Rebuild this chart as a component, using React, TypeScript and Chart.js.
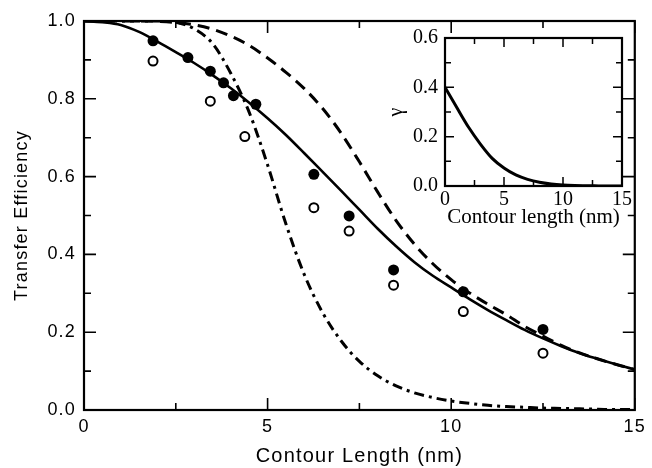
import React, { useEffect, useRef } from 'react';
import { Chart, registerables } from 'chart.js';

Chart.register(...registerables);

// ---- data ----
const curveX = [0, 0.5, 1, 1.5, 2, 2.5, 3, 3.5, 4, 4.5, 5, 5.5, 6, 6.5, 7, 7.5, 8, 8.5, 9, 9.5, 10, 10.5, 11, 11.5, 12, 12.5, 13, 13.5, 14, 14.5, 15];
const solidY = [1.0, 0.997, 0.99, 0.972, 0.947, 0.92, 0.892, 0.861, 0.827, 0.79, 0.75, 0.707, 0.66, 0.612, 0.564, 0.515, 0.466, 0.421, 0.38, 0.345, 0.315, 0.285, 0.257, 0.231, 0.206, 0.184, 0.164, 0.146, 0.131, 0.117, 0.104];
const dashedY = [1.0, 1.0, 1.0, 1.0, 0.999, 0.996, 0.99, 0.979, 0.961, 0.937, 0.905, 0.868, 0.826, 0.775, 0.712, 0.638, 0.56, 0.487, 0.426, 0.376, 0.335, 0.301, 0.272, 0.245, 0.215, 0.19, 0.166, 0.147, 0.131, 0.117, 0.104];
const dashDotY = [1.0, 1.0, 1.0, 1.0, 1.0, 0.997, 0.98, 0.942, 0.865, 0.765, 0.63, 0.478, 0.348, 0.25, 0.178, 0.125, 0.088, 0.062, 0.044, 0.032, 0.023, 0.017, 0.012, 0.009, 0.007, 0.005, 0.004, 0.003, 0.002, 0.001, 0.001];

const filledX = [1.88, 2.83, 3.44, 3.8, 4.07, 4.68, 6.26, 7.22, 8.43, 10.33, 12.5];
const filledY = [0.949, 0.906, 0.871, 0.841, 0.808, 0.786, 0.606, 0.499, 0.36, 0.304, 0.207];
const openX = [1.88, 3.44, 4.38, 6.26, 7.22, 8.43, 10.33, 12.5];
const openY = [0.897, 0.794, 0.703, 0.52, 0.46, 0.321, 0.253, 0.146];

const insetX = [0, 1, 2, 3, 4, 5, 6, 7, 8, 9, 10, 11, 12, 13, 14, 15];
const insetY = [0.4, 0.318, 0.238, 0.17, 0.112, 0.073, 0.045, 0.027, 0.015, 0.008, 0.004, 0.002, 0.001, 0.0005, 0, 0];

const xTicks = [0, 5, 10, 15];
const xMinorTicks = [2.5, 7.5, 12.5];
const yTicks = [0, 0.2, 0.4, 0.6, 0.8, 1.0];
const yMinorTicks = [0.1, 0.3, 0.5, 0.7, 0.9];
const insetXTicks = [0, 5, 10, 15];
const insetXMinorTicks = [2.5, 7.5, 12.5];
const insetYTicks = [0, 0.2, 0.4, 0.6];
const insetYMinorTicks = [0.1, 0.3, 0.5];

const xTitle = 'Contour Length (nm)';
const yTitle = 'Transfer Efficiency';
const insetXTitle = 'Contour length (nm)';
const insetYTitle = 'γ';

const pts = (xs: number[], ys: number[]) => xs.map((x, i) => ({ x, y: ys[i] }));

type FrameCfg = {
  name: string;
  letterSpacing: string;
  xMajor: number[];
  xMinor: number[];
  yMajor: number[];
  yMinor: number[];
  majorLen: number;
  minorLen: number;
  tickWidth: number;
  frameWidth: number;
};

function framePlugin(cfg: FrameCfg) {
  return {
    id: 'frame_' + cfg.name,
    beforeUpdate(chart: any) {
      (chart.ctx as any).letterSpacing = cfg.letterSpacing;
    },
    beforeDraw(chart: any) {
      (chart.ctx as any).letterSpacing = cfg.letterSpacing;
    },
    afterDraw(chart: any) {
      const { ctx, chartArea, scales } = chart;
      const { left, right, top, bottom } = chartArea;
      const xs = scales.x;
      const ys = scales.y;
      ctx.save();
      ctx.setLineDash([]);
      ctx.strokeStyle = '#000';
      ctx.lineWidth = cfg.tickWidth;
      ctx.beginPath();
      const vx = (vals: number[], len: number) =>
        vals.forEach((v) => {
          const p = xs.getPixelForValue(v);
          ctx.moveTo(p, bottom);
          ctx.lineTo(p, bottom - len);
          ctx.moveTo(p, top);
          ctx.lineTo(p, top + len);
        });
      const vy = (vals: number[], len: number) =>
        vals.forEach((v) => {
          const p = ys.getPixelForValue(v);
          ctx.moveTo(left, p);
          ctx.lineTo(left + len, p);
          ctx.moveTo(right, p);
          ctx.lineTo(right - len, p);
        });
      vx(cfg.xMajor, cfg.majorLen);
      vx(cfg.xMinor, cfg.minorLen);
      vy(cfg.yMajor, cfg.majorLen);
      vy(cfg.yMinor, cfg.minorLen);
      ctx.stroke();
      ctx.lineWidth = cfg.frameWidth;
      ctx.strokeRect(left, top, right - left, bottom - top);
      ctx.restore();
    },
  };
}

const MAIN_W = 652;
const MAIN_H = 468;
const INSET_LEFT = 370;
const INSET_TOP = 18;
const INSET_W = 272;
const INSET_H = 220;

export default function App() {
  const mainRef = useRef<HTMLCanvasElement | null>(null);
  const insetRef = useRef<HTMLCanvasElement | null>(null);

  useEffect(() => {
    const sans = 'Liberation Sans';
    const serif = 'Liberation Serif';

    const main = new Chart(mainRef.current as HTMLCanvasElement, {
      type: 'scatter',
      data: {
        datasets: [
          {
            label: 'open',
            data: pts(openX, openY),
            pointStyle: 'circle',
            pointRadius: 4.5,
            pointBorderWidth: 2,
            pointBackgroundColor: '#fff',
            pointBorderColor: '#000',
            showLine: false,
            order: 0,
          },
          {
            label: 'filled',
            data: pts(filledX, filledY),
            pointStyle: 'circle',
            pointRadius: 5.5,
            pointBorderWidth: 0,
            pointBackgroundColor: '#000',
            pointBorderColor: '#000',
            showLine: false,
            order: 1,
          },
          {
            label: 'solid',
            data: pts(curveX, solidY),
            showLine: true,
            borderColor: '#000',
            borderWidth: 2.6,
            pointRadius: 0,
            cubicInterpolationMode: 'monotone',
            order: 2,
          },
          {
            label: 'dashed',
            data: pts(curveX, dashedY),
            showLine: true,
            borderColor: '#000',
            borderWidth: 3,
            borderDash: [12, 7],
            pointRadius: 0,
            cubicInterpolationMode: 'monotone',
            order: 3,
          },
          {
            label: 'dashdot',
            data: pts(curveX, dashDotY),
            showLine: true,
            borderColor: '#000',
            borderWidth: 3,
            borderDash: [10, 5, 3, 5],
            pointRadius: 0,
            cubicInterpolationMode: 'monotone',
            order: 4,
          },
        ],
      },
      options: {
        responsive: false,
        animation: false,
        devicePixelRatio: 1,
        layout: { padding: { left: 0, right: 14, top: 21, bottom: 0 } },
        plugins: { legend: { display: false }, tooltip: { enabled: false } },
        scales: {
          x: {
            type: 'linear',
            min: 0,
            max: 15,
            grid: { display: false, drawTicks: false },
            border: { display: false },
            afterBuildTicks: (s: any) => {
              s.ticks = xTicks.map((v) => ({ value: v }));
            },
            afterFit: (s: any) => {
              s.height = 58;
            },
            ticks: {
              color: '#000',
              font: { family: sans, size: 18 },
              padding: 6,
              maxRotation: 0,
              autoSkip: false,
              callback: (v: any) => String(v),
            },
            title: {
              display: true,
              text: xTitle,
              color: '#000',
              font: { family: sans, size: 20 },
              padding: { top: 0, bottom: 0 },
            },
          },
          y: {
            type: 'linear',
            min: 0,
            max: 1,
            grid: { display: false, drawTicks: false },
            border: { display: false },
            afterBuildTicks: (s: any) => {
              s.ticks = yTicks.map((v) => ({ value: v }));
            },
            afterFit: (s: any) => {
              s.width = 84;
            },
            ticks: {
              color: '#000',
              font: { family: sans, size: 18 },
              padding: 8,
              autoSkip: false,
              callback: (v: any) => Number(v).toFixed(1),
            },
            title: {
              display: true,
              text: yTitle,
              color: '#000',
              font: { family: sans, size: 18 },
              padding: { top: 11, bottom: 0 },
            },
          },
        },
      } as any,
      plugins: [
        framePlugin({
          name: 'main',
          letterSpacing: '1.2px',
          xMajor: xTicks,
          xMinor: xMinorTicks,
          yMajor: yTicks,
          yMinor: yMinorTicks,
          majorLen: 12,
          minorLen: 7,
          tickWidth: 1.6,
          frameWidth: 2.2,
        }),
      ],
    } as any);

    const inset = new Chart(insetRef.current as HTMLCanvasElement, {
      type: 'scatter',
      data: {
        datasets: [
          {
            label: 'gamma',
            data: pts(insetX, insetY),
            showLine: true,
            borderColor: '#000',
            borderWidth: 3,
            pointRadius: 0,
            cubicInterpolationMode: 'monotone',
          },
        ],
      },
      options: {
        responsive: false,
        animation: false,
        devicePixelRatio: 1,
        layout: { padding: { left: 0, right: 20, top: 20, bottom: 0 } },
        plugins: { legend: { display: false }, tooltip: { enabled: false } },
        scales: {
          x: {
            type: 'linear',
            min: 0,
            max: 15,
            grid: { display: false, drawTicks: false },
            border: { display: false },
            afterBuildTicks: (s: any) => {
              s.ticks = insetXTicks.map((v) => ({ value: v }));
            },
            afterFit: (s: any) => {
              s.height = INSET_H - 168;
            },
            ticks: {
              color: '#000',
              font: { family: serif, size: 20 },
              padding: 2,
              maxRotation: 0,
              autoSkip: false,
              callback: (v: any) => String(v),
            },
            title: {
              display: true,
              text: insetXTitle,
              color: '#000',
              font: { family: serif, size: 21 },
              padding: { top: 0, bottom: 8 },
            },
          },
          y: {
            type: 'linear',
            min: 0,
            max: 0.6,
            grid: { display: false, drawTicks: false },
            border: { display: false },
            afterBuildTicks: (s: any) => {
              s.ticks = insetYTicks.map((v) => ({ value: v }));
            },
            afterFit: (s: any) => {
              s.width = 75;
            },
            ticks: {
              color: '#000',
              font: { family: serif, size: 20 },
              padding: 7,
              autoSkip: false,
              callback: (v: any) => Number(v).toFixed(1),
            },
            title: {
              display: true,
              text: insetYTitle,
              color: '#000',
              font: { family: serif, size: 20 },
              padding: { top: 15, bottom: 0 },
            },
          },
        },
      } as any,
      plugins: [
        framePlugin({
          name: 'inset',
          letterSpacing: '0px',
          xMajor: insetXTicks,
          xMinor: insetXMinorTicks,
          yMajor: insetYTicks,
          yMinor: insetYMinorTicks,
          majorLen: 9,
          minorLen: 6,
          tickWidth: 1.5,
          frameWidth: 2.2,
        }),
      ],
    } as any);

    return () => {
      main.destroy();
      inset.destroy();
    };
  }, []);

  return (
    <div
      style={{
        position: 'fixed',
        left: 0,
        top: 0,
        width: MAIN_W,
        height: MAIN_H,
        background: '#fff',
      }}
    >
      <canvas
        ref={mainRef}
        width={MAIN_W}
        height={MAIN_H}
        style={{ position: 'absolute', left: 0, top: 0, width: MAIN_W, height: MAIN_H }}
      />
      <canvas
        ref={insetRef}
        width={INSET_W}
        height={INSET_H}
        style={{ position: 'absolute', left: INSET_LEFT, top: INSET_TOP, width: INSET_W, height: INSET_H }}
      />
    </div>
  );
}
